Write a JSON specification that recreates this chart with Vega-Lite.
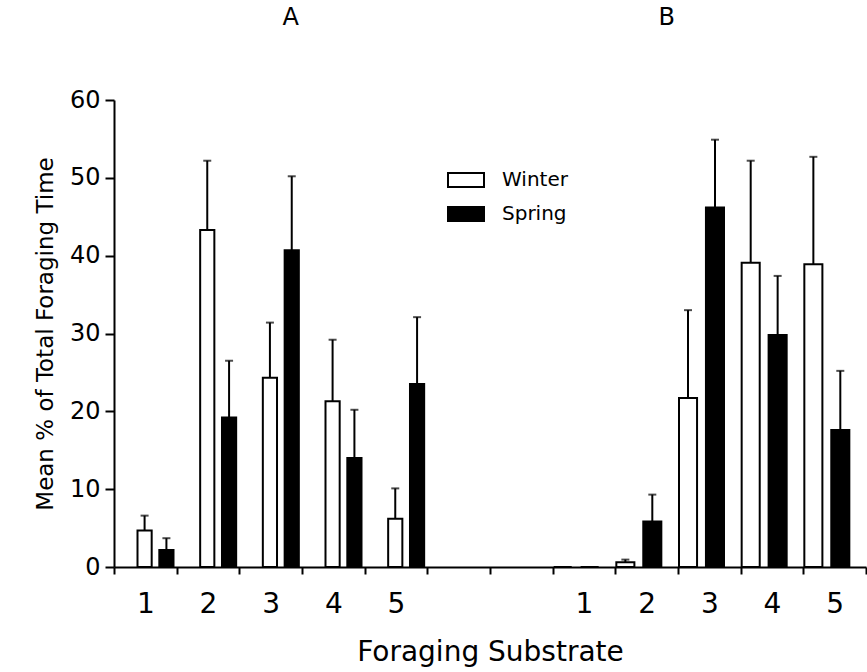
{
  "$schema": "https://vega.github.io/schema/vega-lite/v6.json",
  "width": 752,
  "height": 467,
  "autosize": {"type": "none"},
  "padding": {"left": 114, "top": 100, "right": 1, "bottom": 105},
  "background": "white",
  "config": {
    "font": "DejaVu Sans",
    "view": {"stroke": null},
    "axis": {"grid": false, "domainColor": "black", "tickColor": "black", "labelColor": "black", "titleColor": "black", "domainWidth": 2, "tickWidth": 2, "titleFontWeight": "normal"}
  },
  "datasets": {
    "bars": [
      {"panel": "A", "cat": "A1", "season": "Winter", "value": 4.7, "upper": 6.6},
      {"panel": "A", "cat": "A1", "season": "Spring", "value": 2.2, "upper": 3.7},
      {"panel": "A", "cat": "A2", "season": "Winter", "value": 43.3, "upper": 52.2},
      {"panel": "A", "cat": "A2", "season": "Spring", "value": 19.2, "upper": 26.5},
      {"panel": "A", "cat": "A3", "season": "Winter", "value": 24.3, "upper": 31.4},
      {"panel": "A", "cat": "A3", "season": "Spring", "value": 40.7, "upper": 50.2},
      {"panel": "A", "cat": "A4", "season": "Winter", "value": 21.3, "upper": 29.2},
      {"panel": "A", "cat": "A4", "season": "Spring", "value": 14.0, "upper": 20.2},
      {"panel": "A", "cat": "A5", "season": "Winter", "value": 6.2, "upper": 10.1},
      {"panel": "A", "cat": "A5", "season": "Spring", "value": 23.5, "upper": 32.1},
      {"panel": "B", "cat": "B1", "season": "Winter", "value": 0, "upper": 0},
      {"panel": "B", "cat": "B1", "season": "Spring", "value": 0, "upper": 0},
      {"panel": "B", "cat": "B2", "season": "Winter", "value": 0.6, "upper": 0.95},
      {"panel": "B", "cat": "B2", "season": "Spring", "value": 5.85, "upper": 9.3},
      {"panel": "B", "cat": "B3", "season": "Winter", "value": 21.7, "upper": 33.0},
      {"panel": "B", "cat": "B3", "season": "Spring", "value": 46.2, "upper": 54.9},
      {"panel": "B", "cat": "B4", "season": "Winter", "value": 39.1, "upper": 52.2},
      {"panel": "B", "cat": "B4", "season": "Spring", "value": 29.8, "upper": 37.4},
      {"panel": "B", "cat": "B5", "season": "Winter", "value": 38.9, "upper": 52.7},
      {"panel": "B", "cat": "B5", "season": "Spring", "value": 17.6, "upper": 25.2}
    ],
    "panels": [
      {"label": "A", "cat": "A3"},
      {"label": "B", "cat": "B2"}
    ]
  },
  "encoding": {
    "x": {
      "field": "cat", "type": "nominal",
      "scale": {"domain": ["A1","A2","A3","A4","A5","G1","G2","B1","B2","B3","B4","B5"], "paddingInner": 0, "paddingOuter": 0},
      "axis": {
        "title": "Foraging Substrate", "labelAngle": 0, "tickBand": "extent",
        "labelExpr": "isValid(datum.value) && substring(datum.value + '', 0, 1) != 'G' ? substring(datum.value + '', 1) : ''",
        "tickSize": 7, "labelFontSize": 28, "labelPadding": 16,
        "titleFontSize": 28, "titlePadding": 20
      }
    }
  },
  "layer": [
    {
      "data": {"name": "bars"},
      "transform": [{"filter": "datum.panel == 'A'"}],
      "encoding": {
        "xOffset": {"field": "season", "type": "nominal", "scale": {"domain": ["Winter","Spring"], "range": [23.5, 59.5], "paddingInner": 0.35, "paddingOuter": 0}},
        "y": {"field": "value", "type": "quantitative",
          "scale": {"domain": [0, 60], "nice": false},
          "axis": {"title": "Mean % of Total Foraging Time", "values": [0,10,20,30,40,50,60], "tickSize": 9, "labelFontSize": 24, "labelPadding": 5, "titleFontSize": 23, "titlePadding": 12}}
      },
      "layer": [
        {
          "mark": {"type": "rule", "stroke": "black", "strokeWidth": 2},
          "transform": [{"filter": "datum.upper > datum.value"}],
          "encoding": {"y2": {"field": "upper"}}
        },
        {
          "mark": {"type": "tick", "color": "black", "size": 8, "thickness": 2},
          "transform": [{"filter": "datum.upper > datum.value"}],
          "encoding": {"y": {"field": "upper", "type": "quantitative"}}
        },
        {
          "mark": {"type": "bar", "stroke": "black", "strokeWidth": 2},
          "encoding": {
            "fill": {"field": "season", "type": "nominal",
              "scale": {"domain": ["Winter","Spring"], "range": ["white","black"]},
              "legend": {"title": null, "orient": "none", "legendX": 333, "legendY": 61,
                "symbolType": "M-1,-0.39H1V0.39H-1Z", "symbolSize": 1296,
                "symbolStrokeColor": "black", "symbolStrokeWidth": 2,
                "labelFontSize": 20, "labelColor": "black", "labelOffset": 17, "rowPadding": 3, "padding": 0}}
          }
        }
      ]
    },
    {
      "data": {"name": "bars"},
      "transform": [{"filter": "datum.panel == 'B'"}],
      "encoding": {
        "xOffset": {"field": "season", "type": "nominal", "scale": {"domain": ["Winter","Spring"], "range": [1, 46], "paddingInner": 0.33, "paddingOuter": 0}},
        "y": {"field": "value", "type": "quantitative"}
      },
      "layer": [
        {
          "mark": {"type": "rule", "stroke": "black", "strokeWidth": 2},
          "transform": [{"filter": "datum.upper > datum.value"}],
          "encoding": {"y2": {"field": "upper"}}
        },
        {
          "mark": {"type": "tick", "color": "black", "size": 8, "thickness": 2},
          "transform": [{"filter": "datum.upper > datum.value"}],
          "encoding": {"y": {"field": "upper", "type": "quantitative"}}
        },
        {
          "mark": {"type": "bar", "stroke": "black", "strokeWidth": 2},
          "encoding": {
            "fill": {"field": "season", "type": "nominal"}
          }
        }
      ]
    },
    {
      "data": {"name": "panels"},
      "mark": {"type": "text", "fontSize": 24, "dx": 20, "color": "black", "baseline": "middle"},
      "encoding": {
        "text": {"field": "label"},
        "y": {"datum": 70.5, "type": "quantitative"}
      }
    }
  ],
  "resolve": {"scale": {"xOffset": "independent"}}
}
